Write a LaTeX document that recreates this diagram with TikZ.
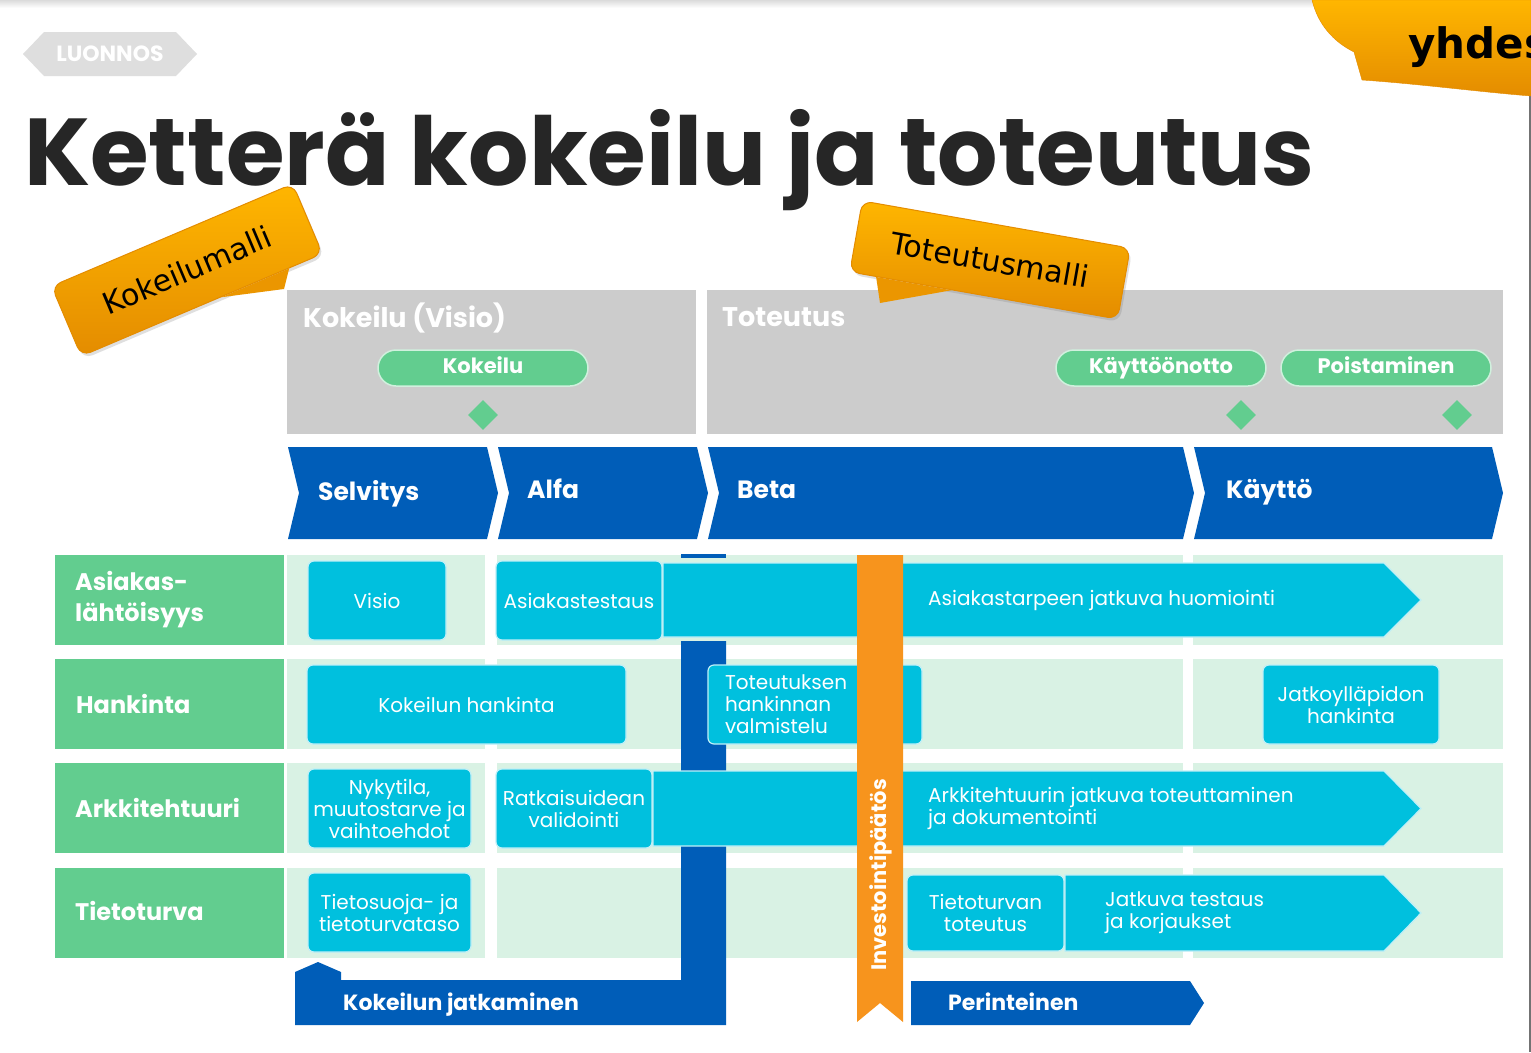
\documentclass[tikz,border=0pt]{standalone}
\usepackage{fontspec}
\setmainfont{Poppins}
\newfontfamily\calloutfont{DejaVu Sans}
\usetikzlibrary{shapes.geometric,calc,shadows}
\definecolor{vblue}{RGB}{0,93,184}
\definecolor{vcyan}{RGB}{0,192,222}
\definecolor{vgreen}{RGB}{98,205,143}
\definecolor{vpale}{RGB}{217,242,228}
\definecolor{vgray}{RGB}{204,204,204}
\definecolor{vorange}{RGB}{247,148,29}
\definecolor{ctop}{RGB}{255,182,0}
\definecolor{cbot}{RGB}{228,140,0}
\definecolor{vtitle}{RGB}{38,38,38}

\begin{document}
\begin{tikzpicture}[x=1pt,y=-1pt,
  callout/.style={rounded corners=10pt,top color=ctop,bottom color=cbot,draw=cbot,line width=1pt,
    drop shadow={opacity=0.25,shadow xshift=2pt,shadow yshift=-3pt},
    text=black,font=\calloutfont\fontsize{30}{32}\selectfont},
  tail/.style={fill=cbot!75!ctop},
  pill/.style={rounded corners=18pt,fill=vgreen,draw=white!70!vgreen,line width=1.5pt,
    minimum width=210,minimum height=36,text height=15pt,text depth=4pt,inner sep=0pt,
    text=white,font=\bfseries\fontsize{21}{21}\selectfont},
  milestone/.style={diamond,fill=vgreen,minimum width=30,minimum height=30,inner sep=0pt},
  phase/.style={anchor=west,text=white,inner sep=0pt,text height=19pt,text depth=5pt,
    font=\bfseries\fontsize{25}{25}\selectfont},
  rowlabel/.style={anchor=west,align=left,text=white,inner sep=0pt,font=\bfseries\fontsize{24}{31}\selectfont},
  cyanbox/.style={fill=vcyan,draw=white!75!vcyan,line width=1.2pt,rounded corners=6pt,text=white,
    align=center,inner sep=0pt,font=\fontsize{20}{22}\selectfont},
  cyantext/.style={anchor=west,align=left,text=white,inner sep=0pt,font=\fontsize{20}{22}\selectfont},
  arrowbody/.style={fill=vcyan,draw=white!75!vcyan,line width=1.2pt}]

\useasboundingbox (0,0) rectangle (1531,1052);
\clip (0,0) rectangle (1531,1052);
\fill[white] (0,0) rectangle (1531,1052);
\shade[top color=black!14,bottom color=white] (0,0) rectangle (1531,8);
\draw[black!55,line width=1.5pt] (1530,95) -- (1530,1052);

\shade[top color=ctop,bottom color=cbot,draw=cbot] (1312,0) .. controls (1318,25) and (1334,42) .. (1354,52)
  -- (1362,80) .. controls (1420,84) and (1480,92) .. (1531,96) -- (1531,0) -- cycle;
\node[anchor=base west,inner sep=0pt,font=\calloutfont\bfseries\fontsize{42}{42}\selectfont] (yhdes) at (1408,58) {yhdes};

\fill[black!13] (23,54) -- (44,32) -- (176,32) -- (197,54) -- (176,76) -- (44,76) -- cycle;
\node[text=white,font=\bfseries\fontsize{22}{22}\selectfont] (luonnos) at (110,54) {LUONNOS};

\node[anchor=base west,inner sep=0pt,text=vtitle,font=\bfseries\fontsize{95}{95}\selectfont] (title) at (24,185) {Ketterä kokeilu ja toteutus};

\fill[vgray] (287,290) rectangle (696,434);
\fill[vgray] (707,290) rectangle (1503,434);
\node[anchor=base west,inner sep=0pt,text=white,font=\bfseries\fontsize{27}{27}\selectfont] (kokvisio) at (303,327) {Kokeilu (Visio)};
\node[anchor=base west,inner sep=0pt,text=white,font=\bfseries\fontsize{27}{27}\selectfont] (toteutus) at (722,326) {Toteutus};
\node[pill] (kokeilu) at (483,368) {Kokeilu};
\node[pill] (kaytto) at (1161,368) {Käyttöönotto};
\node[pill] (poisto) at (1386,368) {Poistaminen};
\node[milestone] (m1) at (483,415) {};
\node[milestone] (m2) at (1241,415) {};
\node[milestone] (m3) at (1457,415) {};

\node[callout,rotate=23,minimum width=262,minimum height=76] (kokmalli) at (187,270) {Kokeilumalli};
\fill[tail] ($(kokmalli.south east)!0.14!(kokmalli.south west)$) -- (284,289) -- ($(kokmalli.south east)!0.42!(kokmalli.south west)$) -- cycle;
\node[callout,rotate=-10,minimum width=272,minimum height=72] (totmalli) at (990,260) {Toteutusmalli};
\fill[tail] ($(totmalli.south west)!0.1!(totmalli.south east)$) -- (880,303) -- ($(totmalli.south west)!0.38!(totmalli.south east)$) -- cycle;

\fill[vblue] (288,447) -- (487,447) -- (498,493) -- (487,539) -- (288,539) -- (299,493) -- cycle;
\fill[vblue] (498,447) -- (697,447) -- (708,493) -- (697,539) -- (498,539) -- (509,493) -- cycle;
\fill[vblue] (708,447) -- (1183,447) -- (1194,493) -- (1183,539) -- (708,539) -- (719,493) -- cycle;
\fill[vblue] (1194,447) -- (1492,447) -- (1503,493) -- (1492,539) -- (1194,539) -- (1205,493) -- cycle;
\node[phase] (selvitys) at (318,493) {Selvitys};
\node[phase] (alfa) at (527,491) {Alfa};
\node[phase] (beta) at (737,491) {Beta};
\node[phase] (kaytto2) at (1226,491) {Käyttö};

\foreach \y in {555,659,763,868} {
  \fill[vgreen] (55,\y) rectangle (284,\y+90);
  \fill[vpale] (287,\y) rectangle (485,\y+90);
  \fill[vpale] (497,\y) rectangle (1183,\y+90);
  \fill[vpale] (1193,\y) rectangle (1503,\y+90);
}
\node[rowlabel] (asiakas) at (75,600) {Asiakas-\\lähtöisyys};
\node[rowlabel] (hankinta) at (76,704) {Hankinta};
\node[rowlabel] (arkki) at (75,808) {Arkkitehtuuri};
\node[rowlabel] (tietoturva) at (75,911) {Tietoturva};

\fill[vblue] (681,554) rectangle (726,558);
\fill[vblue] (681,641) -- (726,641) -- (726,1025) -- (295,1025) -- (295,972) -- (318,962) -- (341,972)
  -- (341,980) -- (681,980) -- cycle;
\node[phase,font=\bfseries\fontsize{22}{22}\selectfont] (jatkaminen) at (343,1003) {Kokeilun jatkaminen};

\node[cyanbox,minimum width=138,minimum height=79] (visio) at (377,600.5) {Visio};
\node[cyanbox,minimum width=166,minimum height=79] (testaus) at (579,600.5) {Asiakastestaus};
\draw[arrowbody] (663,563) -- (1384,563) -- (1421,600) -- (1384,637) -- (663,637) -- cycle;
\node[cyanbox,minimum width=319,minimum height=79] (kokhank) at (466.5,704.5) {Kokeilun hankinta};
\node[cyanbox,minimum width=214,minimum height=79,text width=180,align=left] (valmistelu) at (815,704.5) {Toteutuksen\\hankinnan\\valmistelu};
\node[cyanbox,minimum width=176,minimum height=79] (jatkoyp) at (1351,704.5) {Jatkoylläpidon\\hankinta};
\node[cyanbox,minimum width=163,minimum height=79] (nykytila) at (389.5,808.5) {Nykytila,\\muutostarve ja\\vaihtoehdot};
\node[cyanbox,minimum width=156,minimum height=79] (validointi) at (574,808.5) {Ratkaisuidean\\validointi};
\draw[arrowbody] (653,771) -- (1384,771) -- (1421,808.5) -- (1384,846) -- (653,846) -- cycle;
\node[cyanbox,minimum width=163,minimum height=79] (tietosuoja) at (389.5,912.5) {Tietosuoja- ja\\tietoturvataso};
\draw[arrowbody] (1065,875) -- (1384,875) -- (1421,913) -- (1384,951) -- (1065,951) -- cycle;
\node[cyanbox,minimum width=157,minimum height=76] (ttoteutus) at (985.5,913) {Tietoturvan\\toteutus};

\fill[vorange] (857,555) -- (903,555) -- (903,1022) -- (880,1003) -- (857,1022) -- cycle;
\node[rotate=90,text=white,inner sep=0pt,font=\bfseries\fontsize{21}{21}\selectfont] (invest) at (881,875) {Investointipäätös};

\node[cyantext] (huomio) at (928,600) {Asiakastarpeen jatkuva huomiointi};
\node[cyantext] (arkjatkuva) at (928,808) {Arkkitehtuurin jatkuva toteuttaminen\\ja dokumentointi};
\node[cyantext] (korjaus) at (1105,913) {Jatkuva testaus\\ja korjaukset};

\fill[vblue] (911,981) -- (1190,981) -- (1204,1003) -- (1190,1025) -- (911,1025) -- cycle;
\node[phase,font=\bfseries\fontsize{22}{22}\selectfont] (perinteinen) at (948,1003) {Perinteinen};
\end{tikzpicture}
\end{document}
